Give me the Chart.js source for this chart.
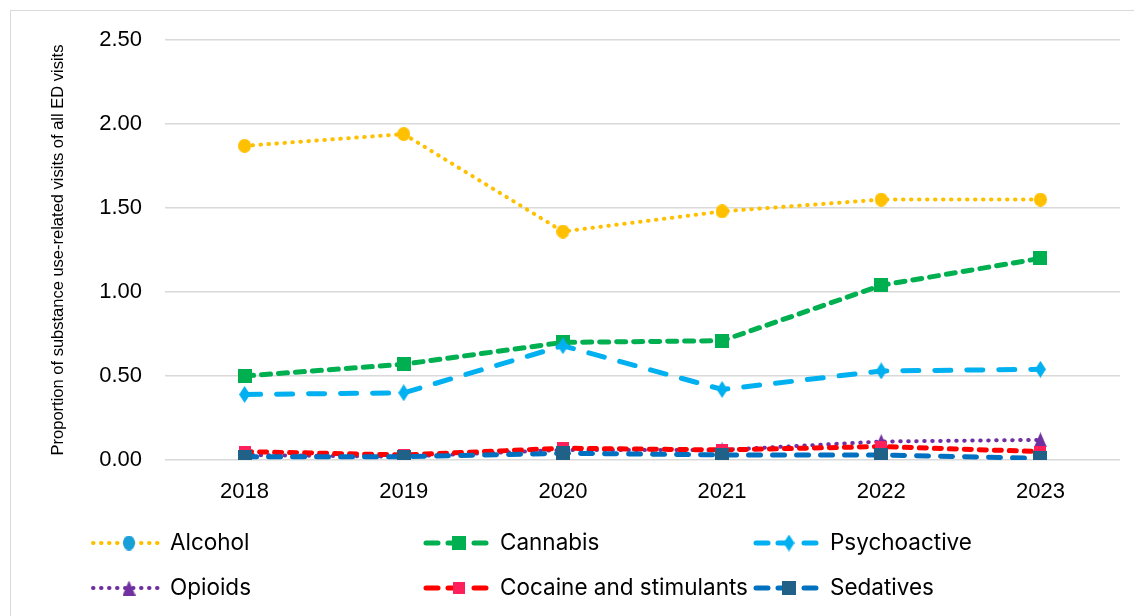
<!DOCTYPE html>
<html>
<head>
<meta charset="utf-8">
<script src="https://cdn.jsdelivr.net/npm/chart.js@4/dist/chart.umd.min.js"></script>
<style>
    body{margin:0;background:#fff;overflow:hidden;}
    #frame{position:absolute;left:10px;top:10px;width:1140px;height:620px;border:1px solid #d9d9d9;}
    canvas{position:absolute;left:0;top:0;}
</style>
</head>
<body>
<div id="frame"></div>
<canvas id="chart" width="1134" height="616"></canvas>
<script>
const years = ['2018', '2019', '2020', '2021', '2022', '2023'];
const alcohol = [1.87, 1.94, 1.36, 1.48, 1.55, 1.55];
const cannabis = [0.50, 0.57, 0.70, 0.71, 1.04, 1.20];
const psychoactive = [0.39, 0.40, 0.68, 0.42, 0.53, 0.54];
const opioids = [0.03, 0.02, 0.06, 0.06, 0.11, 0.12];
const cocaine = [0.05, 0.03, 0.07, 0.06, 0.08, 0.05];
const sedatives = [0.02, 0.02, 0.04, 0.03, 0.03, 0.01];
const seriesNames = ['Alcohol', 'Cannabis', 'Psychoactive', 'Opioids', 'Cocaine and stimulants', 'Sedatives'];
const yTicks = [0, 0.5, 1, 1.5, 2, 2.5];

// small canvases used as markers
function shape(kind, w, h, color) {
    var c = document.createElement('canvas');
    c.width = w;
    c.height = h;
    var g = c.getContext('2d');
    g.fillStyle = color;
    g.beginPath();
    if (kind == 'diamond') {
        g.moveTo(w / 2, 0); g.lineTo(w, h / 2); g.lineTo(w / 2, h); g.lineTo(0, h / 2);
    } else if (kind == 'rect') {
        g.rect(0, 0, w, h);
    } else if (kind == 'ellipse') {
        g.ellipse(w / 2, h / 2, w / 2, h / 2, 0, 0, Math.PI * 2);
    } else if (kind == 'triangle') {
        g.moveTo(w / 2, 0); g.lineTo(w, h); g.lineTo(0, h);
    }
    g.closePath();
    g.fill();
    return c;
}

const markers = [
    shape('ellipse', 13, 14, '#FFC000'),
    shape('rect', 14, 14, '#00B050'),
    shape('diamond', 11, 17, '#00B0F0'),
    shape('triangle', 13, 15, '#7030A0'),
    shape('rect', 12, 12, '#FF1F5B'),
    shape('rect', 14, 14, '#1F6187')
];
// Excel shows the alcohol legend marker in blue
const legendMarkers = markers.slice();
legendMarkers[0] = shape('ellipse', 12, 15, '#1AA0D8');

const lineStyles = [
    {color: '#FFC000', width: 4, dash: [0.5, 7.5]},
    {color: '#00B050', width: 5, dash: [9, 8]},
    {color: '#00B0F0', width: 5, dash: [16, 16]},
    {color: '#7030A0', width: 4, dash: [0.5, 7.5]},
    {color: '#FF0000', width: 5, dash: [7, 8]},
    {color: '#0070C0', width: 5, dash: [12, 12]}
];

const seriesData = [alcohol, cannabis, psychoactive, opioids, cocaine, sedatives];

const datasets = seriesData.map(function (values, i) {
    return {
        label: seriesNames[i],
        data: values,
        borderColor: lineStyles[i].color,
        borderWidth: lineStyles[i].width,
        borderDash: lineStyles[i].dash,
        borderCapStyle: 'round',
        borderJoinStyle: 'round',
        pointStyle: markers[i],
        pointRadius: 7,
        fill: false,
        tension: 0,
        order: 6 - i
    };
});

const legendPlugin = {
    id: 'lineLegend',
    afterDraw: function (chart) {
        var ctx = chart.ctx;
        var cols = [93, 423, 753];
        var rows = [543, 588];
        chart.data.datasets.forEach(function (ds, i) {
            var x = cols[i % 3];
            var y = rows[Math.floor(i / 3)];
            ctx.save();
            ctx.strokeStyle = ds.borderColor;
            ctx.lineWidth = ds.borderWidth;
            ctx.lineCap = 'round';
            if (ds.borderDash[0] < 1) {
                // dotted sample
                ctx.setLineDash(ds.borderDash);
                ctx.beginPath();
                ctx.moveTo(x, y);
                ctx.lineTo(x + 65, y);
                ctx.stroke();
            } else {
                // dash, marker, dash
                ctx.beginPath();
                [[x + 3, x + 15], [x + 25, x + 36], [x + 51, x + 63]].forEach(function (seg) {
                    ctx.moveTo(seg[0], y);
                    ctx.lineTo(seg[1], y);
                });
                ctx.stroke();
            }
            var m = legendMarkers[i];
            ctx.drawImage(m, x + 36 - m.width / 2, y - m.height / 2);
            ctx.fillStyle = '#000';
            ctx.font = '22.5px Inter';
            ctx.textBaseline = 'middle';
            ctx.fillText(seriesNames[i], x + 77, y);
            ctx.restore();
        });
    }
};

var ctx = document.getElementById('chart');
var chart = new Chart(ctx, {
    type: 'line',
    data: {labels: years, datasets: datasets},
    options: {
        responsive: false,
        animation: false,
        layout: {padding: {left: 45, right: 14, top: 40, bottom: 106}},
        plugins: {
            legend: {display: false},
            tooltip: {enabled: false}
        },
        scales: {
            x: {
                offset: true,
                grid: {display: false},
                border: {display: false},
                ticks: {
                    font: {family: 'Liberation Sans', size: 22},
                    color: '#000',
                    padding: 11
                },
                afterFit: function (s) { s.height = 50; }
            },
            y: {
                min: 0,
                max: 2.5,
                afterBuildTicks: function (s) {
                    s.ticks = yTicks.map(function (v) { return {value: v}; });
                },
                ticks: {
                    callback: function (v) { return v.toFixed(2); },
                    font: {family: 'Liberation Sans', size: 22},
                    color: '#000',
                    padding: 23
                },
                grid: {color: '#d9d9d9', lineWidth: 1.5, drawTicks: false},
                border: {display: false},
                title: {
                    display: true,
                    text: 'Proportion of substance use-related visits of all ED visits',
                    font: {family: 'Liberation Sans', size: 16.5},
                    color: '#000'
                },
                afterFit: function (s) { s.width = 120; }
            }
        }
    },
    plugins: [legendPlugin]
});
</script>
</body>
</html>
